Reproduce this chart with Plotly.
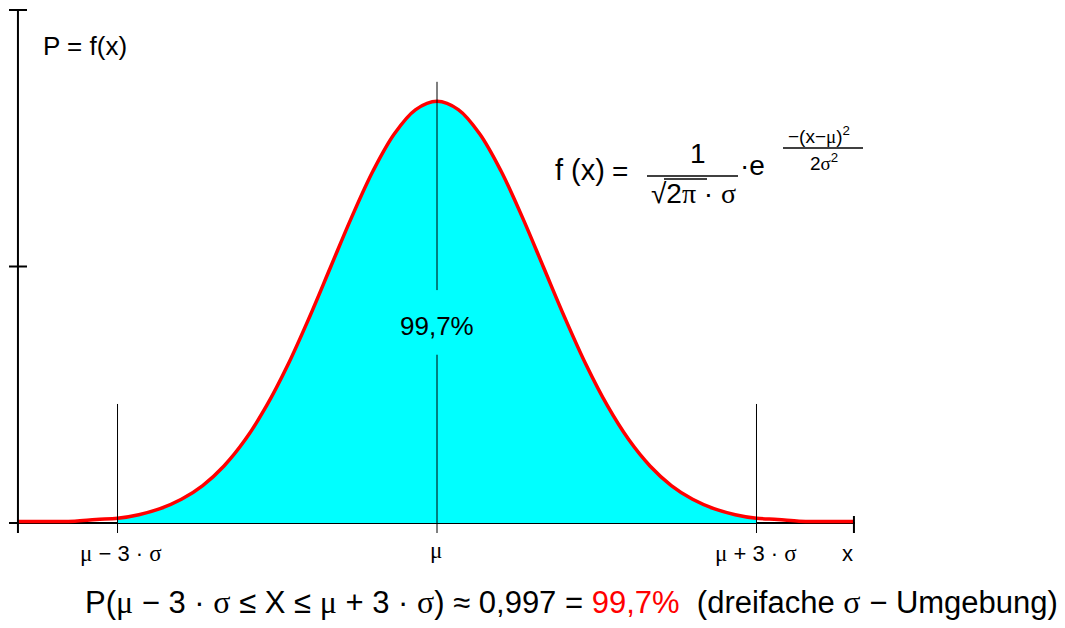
import plotly.graph_objects as go

# ---- data (x in units of sigma around mu, density) ----
x_sigma = [-3.935, -3.6, -3.4, -3.2, -3.0, -2.8, -2.6, -2.4, -2.2, -2.0, -1.8, -1.6, -1.4, -1.2,
           -1.0, -0.8, -0.6, -0.4, -0.2, 0.0, 0.2, 0.4, 0.6, 0.8, 1.0, 1.2, 1.4, 1.6, 1.8,
           2.0, 2.2, 2.4, 2.6, 2.8, 3.0, 3.2, 3.4, 3.6, 3.915]
density = [0.0015, 0.0015, 0.0018, 0.0035, 0.0046, 0.0081, 0.0140, 0.0231, 0.0365, 0.0556,
           0.0813, 0.1143, 0.1542, 0.2001, 0.2493, 0.2984, 0.3433, 0.3794, 0.4029, 0.4110,
           0.4029, 0.3794, 0.3433, 0.2984, 0.2493, 0.2001, 0.1542, 0.1143, 0.0813, 0.0556,
           0.0365, 0.0231, 0.0140, 0.0081, 0.0046, 0.0035, 0.0018, 0.0015, 0.0015]
band_low, band_high = -3.0, 3.0
marker_lines = [-3.0, 0.0, 3.0]
y_ticks = [0.25, 0.5]

# ---- geometry ----
W, H = 1065, 628
L, R, T, B = 9, 855, 6, 533
x_range = [-4.019, 3.925]
y_range = [-0.00975, 0.5039]
SERIF = "Liberation Serif"
SANS = "Liberation Sans"


def g(s, size):
    return f"<span style='font-family:{SERIF};font-size:{size}px'>{s}</span>"


def pp(x, y):
    return (x - L) / (R - L), (B - y) / (B - T)


fill_x = [x for x in x_sigma if band_low <= x <= band_high]
fill_y = [d for x, d in zip(x_sigma, density) if band_low <= x <= band_high]

fig = go.Figure()
fig.add_trace(go.Scatter(x=fill_x, y=fill_y, mode="lines", line=dict(width=0, shape="spline"),
                         fill="tozeroy", fillcolor="#00FFFF", hoverinfo="skip"))
fig.add_trace(go.Scatter(x=x_sigma, y=density, mode="lines",
                         line=dict(color="#FF0000", width=3.5, shape="spline"), hoverinfo="skip"))

# vertical marker lines
for xv in marker_lines:
    if xv == 0.0:
        ys = [0.43, 0.227, None, 0.164, y_range[0]]
        xs = [xv, xv, None, xv, xv]
    else:
        ys = [0.116, y_range[0]]
        xs = [xv, xv]
    fig.add_trace(go.Scatter(x=xs, y=ys, mode="lines", line=dict(color="black", width=1),
                             hoverinfo="skip"))

# y axis line + crossing ticks
y_axis_x = x_sigma[0]
fig.add_trace(go.Scatter(x=[y_axis_x, y_axis_x], y=[y_range[0], y_ticks[-1]], mode="lines",
                         line=dict(color="black", width=2), hoverinfo="skip"))
for yt in y_ticks:
    fig.add_trace(go.Scatter(x=[x_range[0], y_axis_x + 0.085], y=[yt, yt], mode="lines",
                             line=dict(color="black", width=2), hoverinfo="skip"))
fig.add_trace(go.Scatter(x=[x_sigma[-1], x_sigma[-1]], y=[0.0068, y_range[0]], mode="lines",
                         line=dict(color="black", width=2), hoverinfo="skip"))

fig.update_layout(
    width=W, height=H, showlegend=False,
    paper_bgcolor="white", plot_bgcolor="white",
    margin=dict(l=L, r=W - R, t=T, b=H - B),
    xaxis=dict(range=x_range, visible=False, showgrid=False, zeroline=False),
    yaxis=dict(range=y_range, showgrid=False, showticklabels=False, ticks="",
               zeroline=True, zerolinecolor="black", zerolinewidth=2, showline=False),
    font=dict(family=SANS, color="black"),
)

ann = []


def add_text(text, x, y, size, color="black"):
    px, py = pp(x, y)
    ann.append(dict(text=text, x=px, y=py, xref="paper", yref="paper", showarrow=False,
                    xanchor="center", yanchor="middle", font=dict(size=size, color=color, family=SANS)))


add_text("P = f(x)", 85, 46, 26)
# formula
add_text("f (x)", 580, 170, 29)
add_text("=", 620, 171, 28)
add_text("1", 698, 153, 28)
add_text("√2" + g("π", 28) + " · " + g("σ", 28), 693, 193, 28)
add_text("·e", 752, 165, 28)
add_text("−(x−" + g("μ", 19) + ")<sup>2</sup>", 819, 135, 19)
add_text("2" + g("σ", 19) + "<sup>2</sup>", 824, 162, 19)
# center label
add_text("99,7%", 437, 326, 26)
# x labels
add_text(g("μ", 23) + " − 3 · " + g("σ", 23), 121, 553, 22)
add_text("" + g("μ", 23), 436, 550, 22)
add_text(g("μ", 23) + " + 3 · " + g("σ", 23), 756, 553, 22)
add_text("x", 847, 553, 22)
# bottom statement
add_text("P(" + g("μ", 32) + " − 3 · " + g("σ", 32) + " ≤ X ≤ " + g("μ", 32) + " + 3 · " + g("σ", 32)
         + ") ≈ 0,997 = <span style='color:#FF0000'>99,7%</span>  (dreifache " + g("σ", 32)
         + " − Umgebung)", 571, 602, 31)
fig.update_layout(annotations=ann)

shapes = []
for (x0, x1, y0) in [(647, 738, 176), (783, 863, 148), (664, 707, 179)]:
    a0, b0 = pp(x0, y0)
    a1, _ = pp(x1, y0)
    shapes.append(dict(type="line", xref="paper", yref="paper", x0=a0, x1=a1, y0=b0, y1=b0,
                       line=dict(color="black", width=1.5)))
fig.update_layout(shapes=shapes)

fig.write_html("out.html", config={"displayModeBar": False},
               post_script="document.body.style.margin='0';")
